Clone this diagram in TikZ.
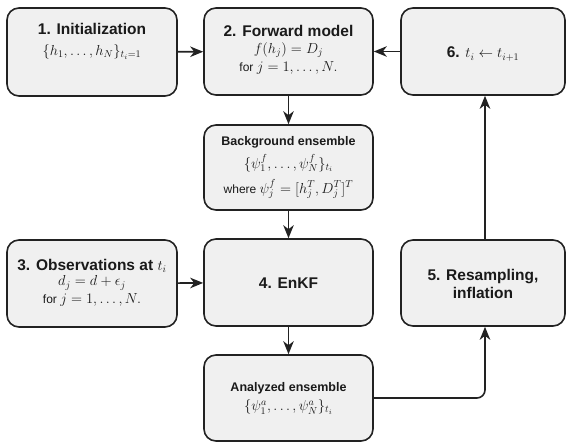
\RequirePackage{fix-cm}
\documentclass[tikz,border=0pt]{standalone}
\usepackage{fontspec}
\setsansfont{Liberation Sans}
\usetikzlibrary{arrows.meta}
\definecolor{boxfill}{HTML}{F0F0F0}
\definecolor{boxline}{HTML}{222222}
\definecolor{txt}{HTML}{1A1A1A}
\tikzset{
  box/.style={draw=boxline, fill=boxfill, line width=1.6pt, rounded corners=12pt, inner sep=0pt},
  title/.style={font=\sffamily\bfseries\fontsize{15.5}{18}\selectfont, text=txt, inner sep=0pt, align=center},
  subtitle/.style={font=\sffamily\bfseries\fontsize{12.5}{15}\selectfont, text=txt, inner sep=0pt},
  mathtxt/.style={font=\sffamily\fontsize{12}{14}\selectfont, text=txt, inner sep=0pt},
  arr/.style={draw=boxline, line width=1.6pt, -{Stealth[length=13pt,width=10.5pt,inset=4pt]}},
}
\newcommand{\mth}[1]{{\fontsize{14.5}{16}\selectfont$#1$}}
\begin{document}
\begin{tikzpicture}[x=1pt,y=-1pt]
\useasboundingbox (0,0) rectangle (566,443);
% boxes
\node[box, minimum width=170pt, minimum height=88pt] (b1) at (92,52) {};
\node[box, minimum width=169pt, minimum height=87pt] (b2) at (288.5,51.5) {};
\node[box, minimum width=164pt, minimum height=87pt] (b6) at (483,51.5) {};
\node[box, minimum width=169pt, minimum height=85pt] (bg) at (288.5,167.5) {};
\node[box, minimum width=170pt, minimum height=87pt] (b3) at (92,283.5) {};
\node[box, minimum width=169pt, minimum height=87pt] (b4) at (288.5,282.5) {};
\node[box, minimum width=164pt, minimum height=86pt] (b5) at (483,283) {};
\node[box, minimum width=169pt, minimum height=86pt] (an) at (288.5,398) {};
% texts
\node[title] (t1) at (92,29) {1. Initialization};
\node[mathtxt] (m1) at (92,52) {\mth{\{h_1,\ldots,h_N\}_{t_i=1}}};
\node[title] (t2) at (288.5,31) {2. Forward model};
\node[mathtxt] (m2) at (288.5,50) {\mth{f(h_j)=D_j}};
\node[mathtxt] (f2) at (288.5,68) {for \mth{j=1,\ldots,N.}};
\node[title] (t6) at (483,54) {6. \mth{t_i \leftarrow t_{i+1}}};
\node[subtitle] (tg) at (288.5,142) {Background ensemble};
\node[mathtxt] (mg) at (288.5,163) {\mth{\{\psi_1^f,\ldots,\psi_N^f\}_{t_i}}};
\node[mathtxt] (wg) at (288.5,189) {where \mth{\psi_j^f=[h_j^T,D_j^T]^T}};
\node[title] (t3) at (92,266) {3. Observations at \mth{t_i}};
\node[mathtxt] (m3) at (92,283) {\mth{d_j=d+\epsilon_j}};
\node[mathtxt] (f3) at (92,300) {for \mth{j=1,\ldots,N.}};
\node[title] (t4) at (288.5,283) {4. EnKF};
\node[title] (t5) at (483,284) {5. Resampling,\\inflation};
\node[subtitle] (ta) at (288.5,388) {Analyzed ensemble};
\node[mathtxt] (ma) at (288.5,407) {\mth{\{\psi_1^a,\ldots,\psi_N^a\}_{t_i}}};
% connectors
\coordinate (ax) at (485,0);
\draw[arr] (b1) -- (b2);
\draw[arr] (b6) -- (b2);
\draw[arr] (b2) -- (bg);
\draw[arr] (bg) -- (b4);
\draw[arr] (b3) -- (b4);
\draw[arr] (b4) -- (an);
\draw[arr, rounded corners=8pt] (an.east) -| (b5.south -| ax);
\draw[arr] (b5.north -| ax) -- (b6.south -| ax);
\end{tikzpicture}
\end{document}
